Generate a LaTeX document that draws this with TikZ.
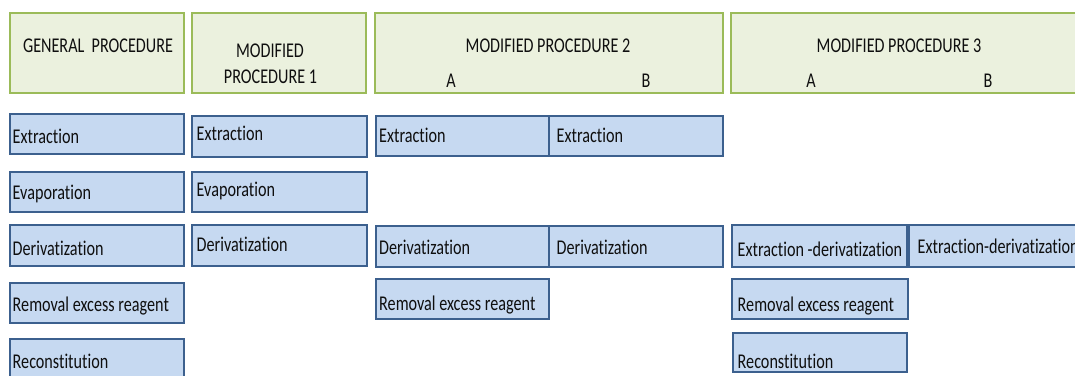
\documentclass[tikz,border=0pt]{standalone}
\usepackage{fontspec}
\setmainfont{Carlito}[FakeStretch=0.77,Ligatures={NoCommon}]
\usetikzlibrary{calc}
\definecolor{hdrfill}{RGB}{235,241,222}
\definecolor{hdrline}{RGB}{155,187,89}
\definecolor{stepfill}{RGB}{198,217,241}
\definecolor{stepline}{RGB}{60,96,142}
\definecolor{txtcol}{RGB}{15,15,15}
\begin{document}
\begin{tikzpicture}[x=1pt,y=-1pt,
  hdr/.style={draw=hdrline,fill=hdrfill,line width=2pt,inner sep=0pt,outer sep=0pt,anchor=north west},
  stepbox/.style={draw=stepline,fill=stepfill,line width=2pt,inner sep=0pt,outer sep=0pt,anchor=north west},
  txt/.style={inner sep=0pt,font=\fontsize{21}{21}\selectfont,text=txtcol}]
\useasboundingbox (0,0) rectangle (1075,375);
\clip (0,0) rectangle (1075,375);

% headers
\node[hdr,minimum width=174pt,minimum height=80pt] (gp) at (10,13) {};
\node[hdr,minimum width=174pt,minimum height=80pt] (mp1) at (192,13) {};
\node[hdr,minimum width=348pt,minimum height=80pt] (mp2) at (375,13) {};
\node[hdr,minimum width=359pt,minimum height=80pt] (mp3) at (731,13) {};

\node[txt,anchor=base] (gpT) at (98,52.7) {GENERAL~~PROCEDURE};
\node[txt,anchor=base] (mp1T) at (270,57.3) {MODIFIED};
\node[txt,anchor=base] (mp1U) at (270.5,83.3) {PROCEDURE 1};
\node[txt,anchor=base] (mp2T) at (548,52.7) {MODIFIED PROCEDURE 2};
\node[txt,anchor=base] (mp2A) at (451,87.3) {A};
\node[txt,anchor=base] (mp2B) at (646,87.3) {B};
\node[txt,anchor=base] (mp3T) at (899,52.7) {MODIFIED PROCEDURE 3};
\node[txt,anchor=base] (mp3A) at (811,87.3) {A};
\node[txt,anchor=base] (mp3B) at (988,87.3) {B};

% column 1: general procedure
\node[stepbox,minimum width=174pt,minimum height=40pt] (e1) at (10,114) {};
\node[stepbox,minimum width=174pt,minimum height=40pt] (v1) at (10,172) {};
\node[stepbox,minimum width=174pt,minimum height=41pt] (d1) at (10,225) {};
\node[stepbox,minimum width=174pt,minimum height=40pt] (r1) at (10,283) {};
\node[stepbox,minimum width=174pt,minimum height=50pt] (c1) at (10,339) {};
\node[txt,anchor=base west] (e1T) at (12.5,143.3) {Extraction};
\node[txt,anchor=base west] (v1T) at (12.5,199.3) {Evaporation};
\node[txt,anchor=base west] (d1T) at (12.5,255) {Derivatization};
\node[txt,anchor=base west] (r1T) at (12.5,311.7) {Removal excess reagent};
\node[txt,anchor=base west] (c1T) at (12.5,368.3) {Reconstitution};

% column 2: modified procedure 1
\node[stepbox,minimum width=175pt,minimum height=41pt] (e2) at (192,116) {};
\node[stepbox,minimum width=175pt,minimum height=40pt] (v2) at (192,172) {};
\node[stepbox,minimum width=175pt,minimum height=41pt] (d2) at (192,225) {};
\node[txt,anchor=base west] (e2T) at (196.5,140) {Extraction};
\node[txt,anchor=base west] (v2T) at (196.5,196) {Evaporation};
\node[txt,anchor=base west] (d2T) at (196.5,251.7) {Derivatization};

% column 3: modified procedure 2
\node[stepbox,minimum width=173pt,minimum height=40pt] (e3a) at (376,116) {};
\node[stepbox,minimum width=174pt,minimum height=40pt] (e3b) at (549,116) {};
\node[stepbox,minimum width=173pt,minimum height=41pt] (d3a) at (376,226) {};
\node[stepbox,minimum width=174pt,minimum height=41pt] (d3b) at (549,226) {};
\node[stepbox,minimum width=173pt,minimum height=40pt] (r3) at (376,279) {};
\node[txt,anchor=base west] (e3aT) at (379,142.3) {Extraction};
\node[txt,anchor=base west] (e3bT) at (556.5,142.3) {Extraction};
\node[txt,anchor=base west] (d3aT) at (379,254.3) {Derivatization};
\node[txt,anchor=base west] (d3bT) at (556.5,254.3) {Derivatization};
\node[txt,anchor=base west] (r3T) at (379,310.7) {Removal excess reagent};

% column 4: modified procedure 3
\node[stepbox,minimum width=175pt,minimum height=42pt] (x4a) at (732,225) {};
\node[stepbox,minimum width=181pt,minimum height=42pt] (x4b) at (909,225) {};
\node[stepbox,minimum width=176pt,minimum height=40pt] (r4) at (732,279) {};
\node[stepbox,minimum width=174pt,minimum height=39pt] (c4) at (733,333) {};
\node[txt,anchor=base west] (x4aT) at (737.5,256.7) {Extraction -derivatization};
\node[txt,anchor=base west] (x4bT) at (917.5,253.3) {Extraction-derivatization};
\node[txt,anchor=base west] (r4T) at (737.5,311.7) {Removal excess reagent};
\node[txt,anchor=base west] (c4T) at (737.5,368.3) {Reconstitution};
\end{tikzpicture}
\end{document}
